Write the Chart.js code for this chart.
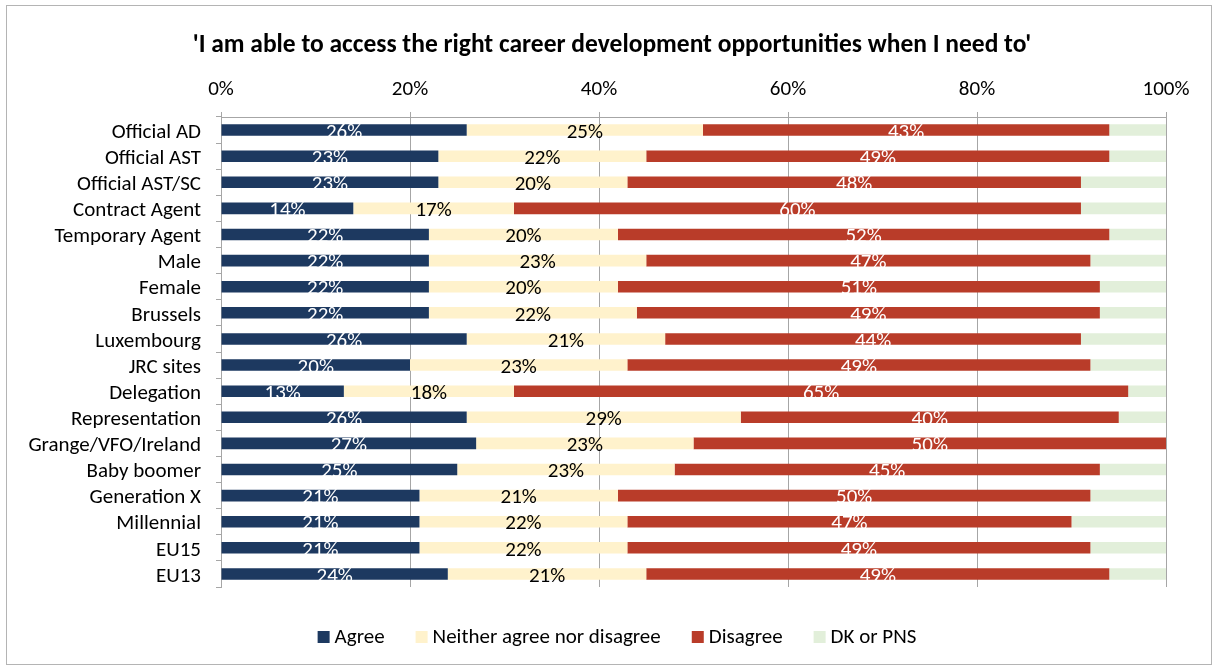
<!DOCTYPE html>
<html>
<head>
<meta charset="utf-8">
<script src="https://cdn.jsdelivr.net/npm/chart.js@4/dist/chart.umd.min.js"></script>
<style>
  html, body { margin: 0; padding: 0; background: #ffffff; }
  canvas { display: block; }
</style>
</head>
<body>
<canvas id="chart" width="1215" height="670"></canvas>
<script>
// Survey groups (top to bottom)
const categories = [
  'Official AD', 'Official AST', 'Official AST/SC', 'Contract Agent', 'Temporary Agent',
  'Male', 'Female', 'Brussels', 'Luxembourg', 'JRC sites', 'Delegation', 'Representation',
  'Grange/VFO/Ireland', 'Baby boomer', 'Generation X', 'Millennial', 'EU15', 'EU13'
];

// Share of respondents per answer, in %
const agree    = [26, 23, 23, 14, 22, 22, 22, 22, 26, 20, 13, 26, 27, 25, 21, 21, 21, 24];
const neither  = [25, 22, 20, 17, 20, 23, 20, 22, 21, 23, 18, 29, 23, 23, 21, 22, 22, 21];
const disagree = [43, 49, 48, 60, 52, 47, 51, 49, 44, 49, 65, 40, 50, 45, 50, 47, 49, 49];
const dkPns    = [ 6,  6,  9,  9,  6,  8,  7,  7,  9,  8,  4,  5,  0,  7,  8, 10,  8,  6];

const xTicks = [0, 20, 40, 60, 80, 100];

const titleText = "'I am able to access the right career development opportunities when I need to'";
const seriesNames = ['Agree', 'Neither agree nor disagree', 'Disagree', 'DK or PNS'];
const seriesColors = ['#1d3960', '#fff2cc', '#b93c29', '#e2efda'];
const labelColors = ['#ffffff', '#000000', '#ffffff', null];

const FONT = 'Carlito, Calibri, Lato, sans-serif';
const values = [agree, neither, disagree, dkPns];

// White page, grey frame and the chart heading
const framePlugin = {
  id: 'frame',
  beforeDraw(chart) {
    const ctx = chart.ctx;
    ctx.save();
    ctx.fillStyle = '#ffffff';
    ctx.fillRect(0, 0, chart.width, chart.height);
    ctx.strokeStyle = '#b4b4b4';
    ctx.lineWidth = 1;
    ctx.strokeRect(6.5, 5.5, 1205, 659);
    ctx.fillStyle = '#000000';
    ctx.font = 'bold 25.5px ' + FONT;
    ctx.textAlign = 'center';
    ctx.textBaseline = 'middle';
    ctx.fillText(titleText, 612, 46);
    ctx.restore();
  }
};

// Percentage labels in the middle of each segment
const valueLabels = {
  id: 'valueLabels',
  afterDatasetsDraw(chart) {
    const ctx = chart.ctx;
    ctx.save();
    ctx.font = '21px ' + FONT;
    ctx.textAlign = 'center';
    ctx.textBaseline = 'middle';
    chart.data.datasets.forEach((ds, di) => {
      const color = labelColors[di];
      if (!color) return;
      const meta = chart.getDatasetMeta(di);
      meta.data.forEach((bar, i) => {
        const v = ds.data[i];
        if (!v) return;
        const p = bar.getProps(['x', 'y', 'base'], true);
        ctx.fillStyle = color;
        ctx.fillText(v + '%', (p.x + p.base) / 2, p.y + 2.5);
      });
    });
    ctx.restore();
  }
};

// Legend row under the plot: square swatch followed by the series name
const legendRow = {
  id: 'legendRow',
  afterDraw(chart) {
    const ctx = chart.ctx;
    const box = 12, gap = 5, spacing = 31;
    ctx.save();
    ctx.font = '21px ' + FONT;
    ctx.textBaseline = 'middle';
    ctx.textAlign = 'left';
    const widths = seriesNames.map(n => ctx.measureText(n).width);
    const total = widths.reduce((a, w) => a + box + gap + w, 0) + spacing * (seriesNames.length - 1);
    let x = 617 - total / 2;
    const y = chart.chartArea.bottom + 50;
    seriesNames.forEach((n, i) => {
      ctx.fillStyle = seriesColors[i];
      ctx.fillRect(x, y - box / 2, box, box);
      ctx.fillStyle = '#000000';
      ctx.fillText(n, x + box + gap, y + 1);
      x += box + gap + widths[i] + spacing;
    });
    ctx.restore();
  }
};

new Chart(document.getElementById('chart'), {
  type: 'bar',
  data: {
    labels: categories,
    datasets: values.map((d, i) => ({
      label: seriesNames[i],
      data: d,
      backgroundColor: seriesColors[i],
      borderWidth: 0,
      barPercentage: 0.85,
      categoryPercentage: 0.52
    }))
  },
  options: {
    indexAxis: 'y',
    responsive: false,
    animation: false,
    devicePixelRatio: 1,
    layout: { padding: { left: 0, right: 49, top: 76, bottom: 83 } },
    scales: {
      x: {
        position: 'top',
        stacked: true,
        min: 0,
        max: 100,
        afterBuildTicks(scale) { scale.ticks = xTicks.map(v => ({ value: v })); },
        afterFit(scale) { scale.height = 41; },
        ticks: {
          callback: v => v + '%',
          color: '#000000',
          font: { size: 21, family: FONT },
          padding: 10,
          maxRotation: 0
        },
        grid: { color: '#a6a6a6', lineWidth: 1, tickLength: 5, drawTicks: true },
        border: { color: '#a6a6a6' }
      },
      y: {
        stacked: true,
        afterFit(scale) { scale.width = 221; },
        ticks: {
          color: '#000000',
          font: { size: 21, family: FONT },
          padding: 15,
          labelOffset: 2.5,
          autoSkip: false
        },
        grid: { drawOnChartArea: false, drawTicks: true, tickLength: 5, color: '#a6a6a6', offset: true },
        border: { color: '#a6a6a6' }
      }
    },
    plugins: {
      title: { display: false },
      legend: { display: false },
      tooltip: { enabled: false }
    }
  },
  plugins: [framePlugin, valueLabels, legendRow]
});
</script>
</body>
</html>
